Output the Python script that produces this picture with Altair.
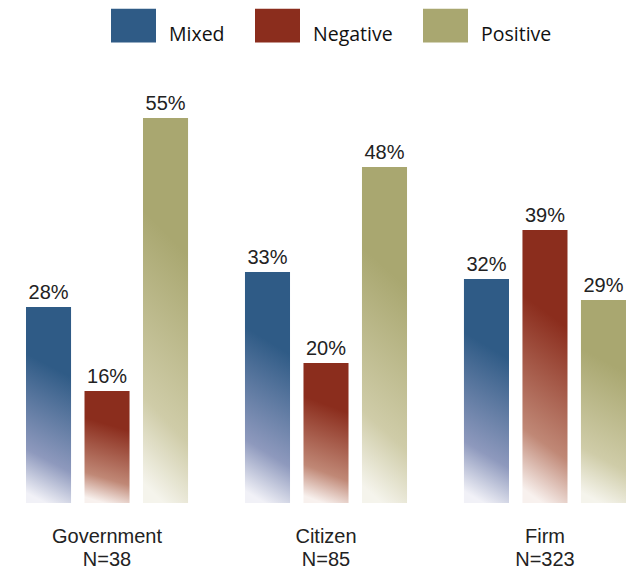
import altair as alt
import pandas as pd

categories = ["Government|N=38", "Citizen|N=85", "Firm|N=323"]
series = ["Mixed", "Negative", "Positive"]
mixed = [28, 33, 32]
negative = [16, 20, 39]
positive = [55, 48, 29]
top_colors = ["#2f5b86", "#8b2d1d", "#a9a770"]
mid_colors = ["#8e99bd", "#c08876", "#cfcca8"]
low_colors = ["#f1f1f7", "#f8f1ee", "#f5f4ec"]

rows = []
for s, vals in zip(series, [mixed, negative, positive]):
    for c, v in zip(categories, vals):
        rows.append({"category": c, "series": s, "value": v, "zero": 0, "label": f"{v}%"})
df = pd.DataFrame(rows)

FONT = "Liberation Sans"
x = alt.X(
    "category:N", sort=categories,
    scale=alt.Scale(paddingInner=0.26, paddingOuter=0),
    axis=alt.Axis(title=None, domain=False, ticks=False, grid=False, labelAngle=0,
                  labelExpr="split(datum.label, '|')", labelFont=FONT, labelFontSize=20,
                  labelColor="#222", labelPadding=23, labelLineHeight=23, labelBaseline="top"),
)
xo = alt.XOffset("series:N", sort=series, scale=alt.Scale(paddingInner=0.23, paddingOuter=0))
yscale = alt.Scale(domain=[0, 63.3], nice=False, zero=True)

base = alt.Chart(df).encode(x=x, xOffset=xo)

legend_layer = base.mark_bar().encode(
    y=alt.Y("zero:Q", scale=yscale, axis=None),
    color=alt.Color(
        "series:N", sort=series,
        scale=alt.Scale(domain=series, range=top_colors),
        legend=alt.Legend(
            title=None, orient="none", legendX=85, legendY=-57, direction="horizontal",
            symbolType="M-1,-0.75L1,-0.75L1,0.75L-1,0.75Z", symbolSize=2025,
            symbolStrokeWidth=0, labelFont="Open Sans", labelFontSize=19.5, labelColor="#111",
            labelOffset=13, columnPadding=30, labelBaseline="top",
        ),
    ),
)

bars = []
for s, c_top, c_mid, c_low in zip(series, top_colors, mid_colors, low_colors):
    grad = alt.Gradient(
        gradient="linear",
        stops=[
            alt.GradientStop(color=c_top, offset=0),
            alt.GradientStop(color=c_top, offset=0.3),
            alt.GradientStop(color=c_mid, offset=0.78),
            alt.GradientStop(color=c_low, offset=1),
        ],
        x1=0.56, y1=0, x2=0.44, y2=1,
    )
    bars.append(
        base.transform_filter(alt.datum.series == s)
        .mark_bar(color=grad)
        .encode(y=alt.Y("value:Q", scale=yscale, axis=None))
    )

text = base.mark_text(baseline="alphabetic", dy=-8, font=FONT, fontSize=20, color="#222").encode(
    y=alt.Y("value:Q", scale=yscale, axis=None), text="label:N"
)

chart = alt.layer(legend_layer, *bars, text).properties(
    width=600, height=443,
    padding={"left": 26, "right": 2, "top": 60, "bottom": 69},
    autosize=alt.AutoSizeParams(type="none"),
).configure_view(stroke=None)

chart.save("out.html", embed_options={"renderer": "svg", "actions": False})
